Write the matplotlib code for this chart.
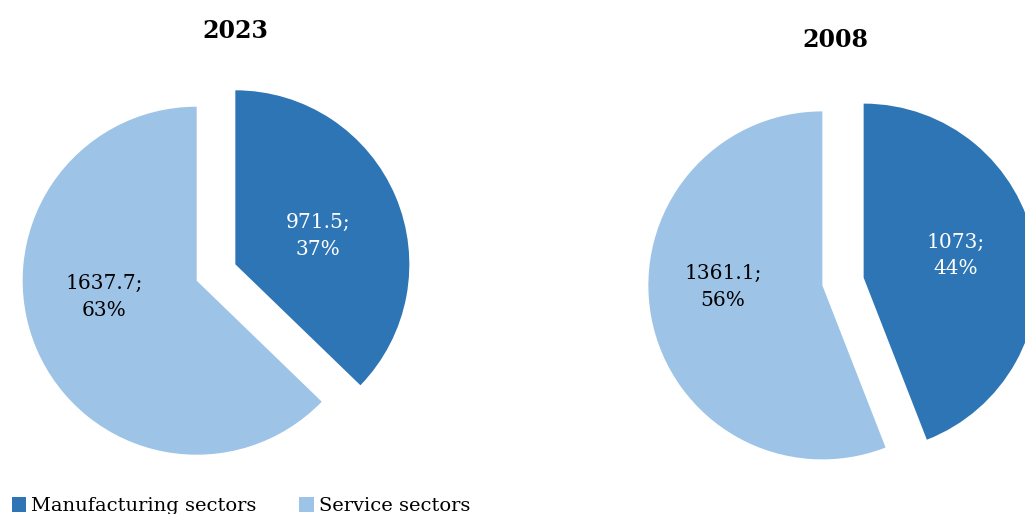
import numpy as np
import matplotlib
matplotlib.use('Agg')
import matplotlib.pyplot as plt
from matplotlib.patches import Patch

plt.rc('font', family='DejaVu Serif')

# values per sector, bn
sectors = ['Manufacturing sectors', 'Service sectors']
years = ['2023', '2008']
vals_2023 = [971.5, 1637.7]
vals_2008 = [1073, 1361.1]
colors = ['#2E75B6', '#9DC3E6']
text_colors = ['white', 'black']

fig = plt.figure(figsize=(10.25, 5.14), dpi=100)
ax = fig.add_axes([0, 0, 1, 1])

def draw_pie(vals, center, title, title_pos, label_offsets):
    ax.pie(vals, colors=colors, startangle=90, counterclock=False,
           radius=174, center=center, explode=[21, 21],
           wedgeprops=dict(linewidth=0))
    total = sum(vals)
    for v, col, (dx, dy) in zip(vals, text_colors, label_offsets):
        pct = round(100 * v / total)
        ax.text(center[0] + dx, center[1] + dy, f"{v:g};\n{pct}%",
                ha='center', va='center', color=col, fontsize=14.5,
                linespacing=1.5)
    ax.text(title_pos[0], title_pos[1], title,
            ha='center', va='center', fontsize=17, fontweight='bold')

draw_pie(vals_2023, (216, 241.5), years[0], (235, 483),
         [(102, 36.5), (-112, -24.5)])
draw_pie(vals_2008, (843, 232.5), years[1], (835, 474),
         [(113, 26), (-120, -5.5)])

ax.set_xlim(0, 1025)
ax.set_ylim(0, 514)
ax.set_aspect('equal')
ax.axis('off')

handles = [Patch(facecolor=c, edgecolor='none') for c in colors]
fig.legend(handles, sectors, loc='lower left', bbox_to_anchor=(0.0, -0.025),
           ncol=2, frameon=False, fontsize=14, handlelength=0.75,
           handleheight=0.75, handletextpad=0.25, columnspacing=2.2,
           borderaxespad=0.2)

fig.savefig('out.png', dpi=100)
